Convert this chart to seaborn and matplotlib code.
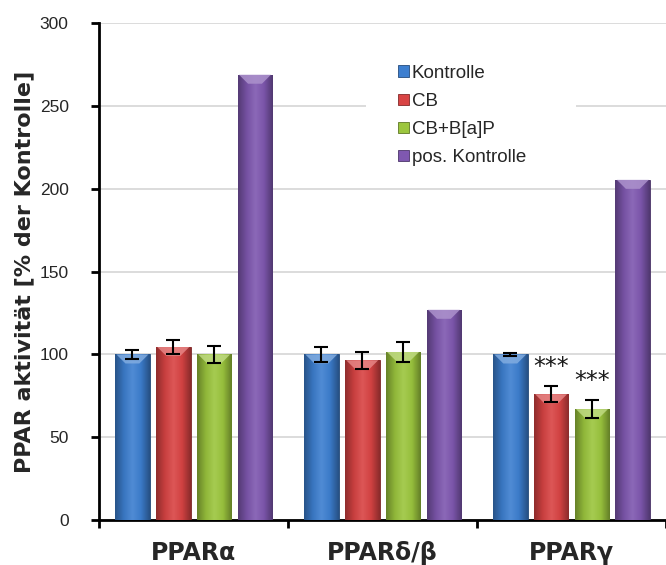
import numpy as np
import pandas as pd
import matplotlib
matplotlib.use("Agg")
import matplotlib.pyplot as plt
import seaborn as sns
from matplotlib.colors import LinearSegmentedColormap, to_rgb
from matplotlib.patches import Polygon, Patch, Rectangle

# Receptor groups and treatments
groups = ["PPARα", "PPARδ/β", "PPARγ"]
series = ["Kontrolle", "CB", "CB+B[a]P", "pos. Kontrolle"]

# Mean activity (% of control) per treatment, one value per receptor
kontrolle = [100, 100, 100]
cb = [104.5, 96.5, 76]
cb_bap = [100, 101.5, 67]
pos_kontrolle = [269, 127, 205.5]

# Error bar half-lengths (pos. Kontrolle has none)
kontrolle_err = [2.5, 4.5, 1]
cb_err = [4, 5, 5]
cb_bap_err = [5, 6, 5.5]

# Significance marks: (group index, series index)
signif = [(2, 1), (2, 2)]

yticks = [0, 50, 100, 150, 200, 250, 300]

colors = ["#3d7fd0", "#d94444", "#9cc63e", "#7f58b0"]

values = [kontrolle, cb, cb_bap, pos_kontrolle]
errors = [kontrolle_err, cb_err, cb_bap_err, None]

df = pd.DataFrame({
    "Rezeptor": [g for s in series for g in groups],
    "Behandlung": [s for s in series for _ in groups],
    "Wert": [v for vals in values for v in vals],
})

sns.set_theme(style="white")
plt.rcParams["font.family"] = ["Liberation Sans", "DejaVu Sans"]

fig = plt.figure(figsize=(6.66, 5.65), dpi=100)
ax = fig.add_axes([0.149, 0.0796, 0.851, 0.879])

sns.barplot(data=df, x="Rezeptor", y="Wert", hue="Behandlung",
            order=groups, hue_order=series, palette=colors,
            width=0.865, gap=0.15, errorbar=None, legend=False,
            saturation=1, ax=ax, zorder=3)


def shade(c, f):
    r = np.array(to_rgb(c))
    if f < 1:
        return tuple(r * f)
    return tuple(r + (1 - r) * (f - 1))


# Bevelled look: horizontal gradient plus a light chevron on top
ppu = ax.get_window_extent().height / 300.0
for cont, col in zip(ax.containers, colors):
    cmap = LinearSegmentedColormap.from_list(
        "bev", [shade(col, 0.66), shade(col, 0.92), shade(col, 1.1),
                shade(col, 0.96), shade(col, 0.64)])
    for p in cont.patches:
        x0, w, h = p.get_x(), p.get_width(), p.get_height()
        grad = np.linspace(0, 1, 64)[None, :]
        im = ax.imshow(grad, extent=[x0, x0 + w, 0, h], aspect="auto",
                       cmap=cmap, zorder=3.1, interpolation="bicubic")
        im.set_clip_path(p)
        p.set_edgecolor(shade(col, 0.55))
        p.set_linewidth(0.6)
        bh = 9 / ppu
        tri = Polygon([[x0 + w * 0.04, h], [x0 + w * 0.96, h],
                       [x0 + w * 0.7, h - bh], [x0 + w * 0.3, h - bh]],
                      closed=True, facecolor=shade(col, 1.35),
                      edgecolor="none", alpha=0.85, zorder=3.2)
        ax.add_patch(tri)

# Error bars, drawn from the bar positions
for cont, err in zip(ax.containers, errors):
    if err is None:
        continue
    xs = [p.get_x() + p.get_width() / 2 for p in cont.patches]
    ys = [p.get_height() for p in cont.patches]
    ax.errorbar(xs, ys, yerr=err, fmt="none", ecolor="black",
                elinewidth=1.5, capsize=4.8, capthick=1.5, zorder=4)

# Significance stars
for gi, si in signif:
    p = ax.containers[si].patches[gi]
    xc = p.get_x() + p.get_width() / 2
    top = values[si][gi] + errors[si][gi]
    ax.text(xc, top + 7.5, "***", ha="center", va="baseline",
            fontsize=17, family="DejaVu Sans", color="#1a1a1a", zorder=5)

ax.set_xlim(-0.5, 2.48)
ax.set_ylim(0, 300)
ax.set_yticks(yticks)
ax.set_yticklabels([str(t) for t in yticks], fontsize=12.5)
ax.yaxis.grid(True, color="#d9d9d9", linewidth=1.3, zorder=0)
ax.set_axisbelow(True)

ax.set_xticks(range(len(groups)))
ax.set_xticklabels(groups, fontsize=17, fontweight="bold",
                   family="DejaVu Sans")
ax.set_xticks([-0.5, 0.5, 1.5, 2.5], minor=True)
ax.tick_params(axis="x", which="major", length=0, pad=15)
ax.tick_params(axis="x", which="minor", length=6, width=2, direction="out",
               color="black", bottom=True)
ax.tick_params(axis="y", which="major", length=6, width=2, direction="out",
               color="black", left=True, pad=16)

ax.set_xlabel("")
ax.set_ylabel("PPAR aktivität [% der Kontrolle]", fontsize=16,
              fontweight="bold", family="DejaVu Sans", labelpad=4)

for s in ["top", "right"]:
    ax.spines[s].set_visible(False)
for s in ["left", "bottom"]:
    ax.spines[s].set_color("black")
    ax.spines[s].set_linewidth(2)

# White backing behind the legend, interrupting the grid
ax.add_patch(Rectangle((0.471, 0.70), 0.37, 0.24, transform=ax.transAxes,
                       facecolor="white", edgecolor="none", zorder=1))

handles = [Patch(facecolor=c, edgecolor=shade(c, 0.6), linewidth=0.6)
           for c in colors]
leg = ax.legend(handles, series, loc="upper left",
                bbox_to_anchor=(0.527, 0.917), fontsize=13.5,
                frameon=False, borderaxespad=0, borderpad=0,
                handlelength=0.6, handleheight=0.55,
                handletextpad=0.15, labelspacing=0.6)
leg.set_zorder(6)

fig.savefig("out.png", dpi=100)
